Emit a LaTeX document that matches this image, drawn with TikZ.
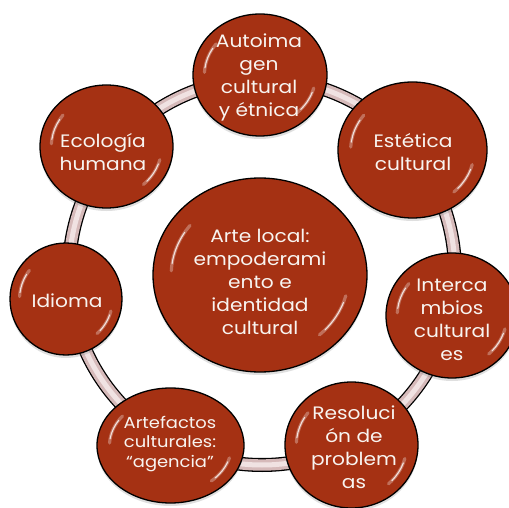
\documentclass[tikz,border=0pt]{standalone}
\usepackage{fontspec}
\setmainfont{Poppins}[FakeStretch=1.12]
\usetikzlibrary{shapes.geometric,shadows}
\definecolor{rust}{RGB}{165,49,19}
\definecolor{rustd}{RGB}{130,36,14}
\definecolor{ringc}{RGB}{214,186,186}
\definecolor{ringl}{RGB}{240,226,226}
\definecolor{txtc}{RGB}{248,244,240}
\pgfdeclareradialshading{bubsh}{\pgfpoint{0bp}{0bp}}{color(0bp)=(rust); color(44bp)=(rust); color(50bp)=(rustd); color(100bp)=(rustd)}
\tikzset{
  bub/.style={ellipse, draw=black, line width=1.3pt, shade, shading=bubsh, inner sep=0pt,
    drop shadow={opacity=0.25, shadow xshift=0pt, shadow yshift=-3pt}},
  lbl/.style={text=txtc, align=center, font=\fontsize{18}{23}\selectfont, inner sep=0pt},
  lblsmall/.style={lbl, font=\fontsize{16}{19.5}\selectfont},
  glowwide/.style={white, opacity=0.3, line width=3.2pt, line cap=round},
  glownarrow/.style={white, opacity=0.8, line width=1.1pt, line cap=round},
}
\newcommand\glossy[3]{%
  \draw[glowwide] (#1.center) ++(183:{0.83*#2} and {0.83*#3})
     arc[start angle=183, end angle=218, x radius={0.83*#2}, y radius={0.83*#3}];
  \draw[glownarrow] (#1.center) ++(188:{0.83*#2} and {0.83*#3})
     arc[start angle=188, end angle=212, x radius={0.83*#2}, y radius={0.83*#3}];
  \draw[glowwide] (#1.center) ++(15:{0.83*#2} and {0.83*#3})
     arc[start angle=15, end angle=48, x radius={0.83*#2}, y radius={0.83*#3}];
  \draw[glownarrow] (#1.center) ++(20:{0.83*#2} and {0.83*#3})
     arc[start angle=20, end angle=43, x radius={0.83*#2}, y radius={0.83*#3}];
}
\begin{document}
\begin{tikzpicture}[x=1pt, y=-1pt]
\useasboundingbox (0,0) rectangle (509,508);
\clip (0,0) rectangle (509,508);
\fill[white] (0,0) rectangle (509,508);
% ring
\coordinate (ring) at (262,272);
\draw[black, line width=14pt] (ring) circle[radius=193];
\draw[ringc, line width=11.4pt] (ring) circle[radius=193];
\draw[ringl, line width=5pt] (ring) circle[radius=193];
% bubbles
\node[bub, minimum width=214pt, minimum height=194pt] (C) at (260,275) {};
\node[bub, minimum width=134pt, minimum height=122pt] (A) at (260,75) {};
\node[bub, minimum width=149pt, minimum height=136pt] (B) at (412.5,150) {};
\node[bub, minimum width=132pt, minimum height=125pt] (I) at (452,315.5) {};
\node[bub, minimum width=133pt, minimum height=126pt] (R) at (351.5,445) {};
\node[bub, minimum width=147pt, minimum height=115pt] (F) at (170.5,445.5) {};
\node[bub, minimum width=112pt, minimum height=112pt] (D) at (66,299) {};
\node[bub, minimum width=133pt, minimum height=123pt] (E) at (106.5,146.5) {};
\glossy{C}{107}{97}
\glossy{A}{67}{61}
\glossy{B}{74.5}{68}
\glossy{I}{66}{62.5}
\glossy{R}{66.5}{63}
\glossy{F}{73.5}{57.5}
\glossy{D}{56}{56}
\glossy{E}{66.5}{61.5}
% labels
\node[lbl] (tC) at (260,282) {Arte local:\\empoderami\\ento e\\identidad\\cultural};
\node[lbl] (tA) at (259,77) {Autoima\\gen\\cultural\\y étnica};
\node[lbl] (tB) at (413,152) {Estética\\cultural};
\node[lbl] (tI) at (452,320) {Interca\\mbios\\cultural\\es};
\node[lbl] (tR) at (354,447) {Resoluci\\ón de\\problem\\as};
\node[lblsmall] (tF) at (170,444) {Artefactos\\culturales:\\“agencia”};
\node[lbl] (tD) at (67,301) {Idioma};
\node[lbl] (tE) at (103,152) {Ecología\\humana};
\end{tikzpicture}
\end{document}
